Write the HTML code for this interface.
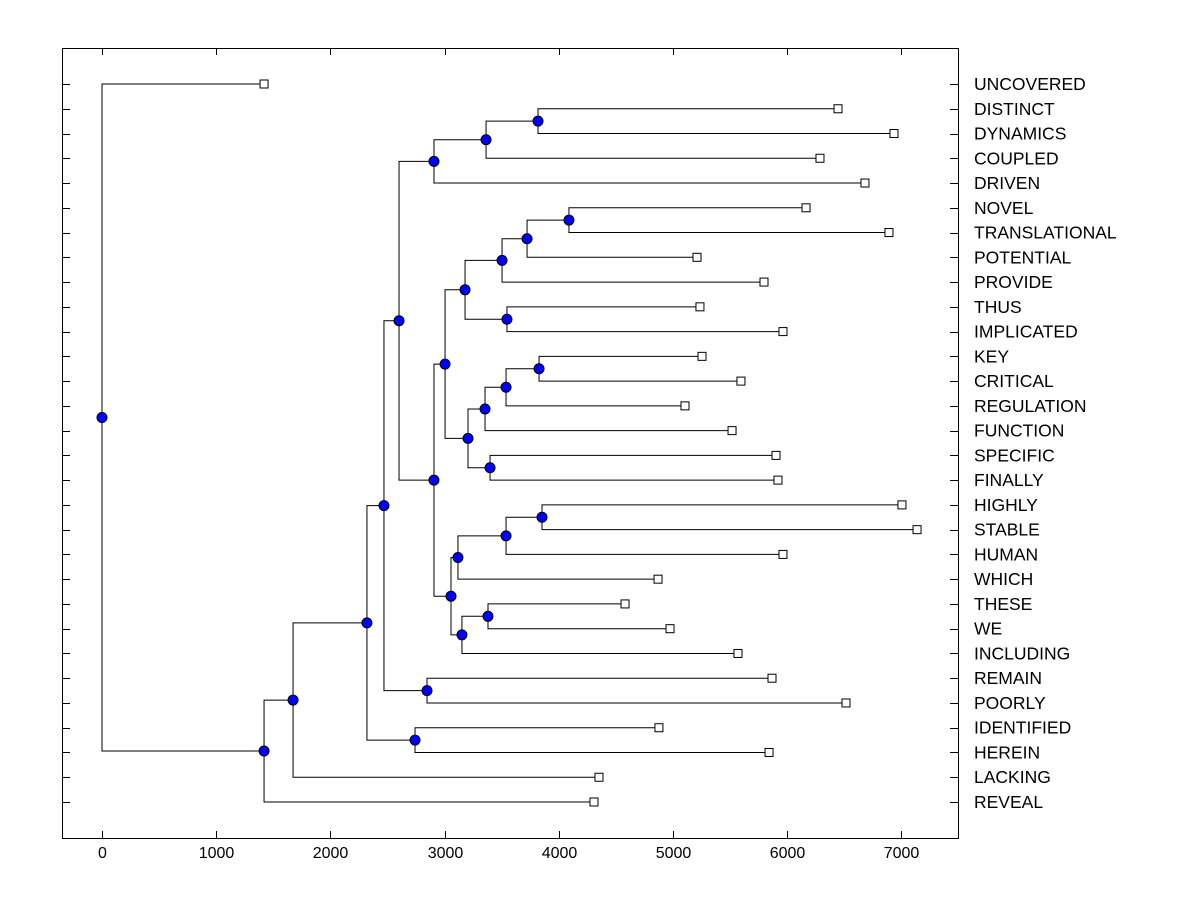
<!DOCTYPE html>
<html><head><meta charset="utf-8"><style>
body{margin:0;background:#fff}
svg{display:block;font-family:"Liberation Sans",Arial,sans-serif}
</style></head><body>
<svg id="chart" width="1200" height="900"></svg>
<script>
const leaves=["UNCOVERED","DISTINCT","DYNAMICS","COUPLED","DRIVEN","NOVEL","TRANSLATIONAL","POTENTIAL","PROVIDE","THUS","IMPLICATED","KEY","CRITICAL","REGULATION","FUNCTION","SPECIFIC","FINALLY","HIGHLY","STABLE","HUMAN","WHICH","THESE","WE","INCLUDING","REMAIN","POORLY","IDENTIFIED","HEREIN","LACKING","REVEAL"];
const leafValues=[1419,6445,6935,6287,6681,6165,6891,5210,5797,5236,5963,5254,5595,5105,5517,5902,5919,7005,7137,5963,4869,4580,4974,5569,5867,6515,4877,5841,4352,4308];
const nodeNames=["root","A","B","C","D","E","F","G","H","I","J","K","L","M","N","O","P","Q","R","S","T","U","V","W","X","Y","Z","AA","AB"];
const nodeLeft=["UNCOVERED","B","C","D","F","IDENTIFIED","H","REMAIN","J","L","K","DISTINCT","N","X","P","T","R","THUS","S","NOVEL","V","SPECIFIC","W","KEY","Z","AB","AA","HIGHLY","THESE"];
const nodeRight=["A","REVEAL","LACKING","E","G","HEREIN","I","POORLY","DRIVEN","M","COUPLED","DYNAMICS","O","Y","Q","U","PROVIDE","IMPLICATED","POTENTIAL","TRANSLATIONAL","FUNCTION","FINALLY","REGULATION","CRITICAL","WHICH","INCLUDING","HUMAN","STABLE","WE"];
const nodeValues=[0,1419,1673,2320,2469,2741,2601,2846,2907,2907,3363,3818,3004,3056,3179,3205,3503,3546,3722,4089,3354,3398,3538,3827,3117,3152,3538,3853,3380];
const xTicks=[0,1000,2000,3000,4000,5000,6000,7000];

const svg=document.getElementById('chart');const NS="http://www.w3.org/2000/svg";
const L=62,R=958,T=48,B=838;
const xs=v=>102+v*0.1142;
const rowY=i=>84+i*(802-84)/29;
function mk(tag,attrs,parent){const e=document.createElementNS(NS,tag);for(const k in attrs)e.setAttribute(k,attrs[k]);(parent||svg).appendChild(e);return e;}
const frame=mk('rect',{x:L+.5,y:T+.5,width:R-L,height:B-T,fill:'none',stroke:'#000'});


const ax=mk('g',{});


xTicks.forEach(t=>{const x=Math.round(xs(t))+.5;
mk('line',{x1:x,x2:x,y1:B,y2:B-7,stroke:'#000'},ax);
mk('line',{x1:x,x2:x,y1:T,y2:T+7,stroke:'#000'},ax);
const tx=mk('text',{x:x,y:858,'text-anchor':'middle','font-size':16},ax);tx.textContent=t;

});
const pos={};
leaves.forEach((n,i)=>{pos[n]={x:xs(leafValues[i]),y:rowY(i)};
const y=Math.round(rowY(i))+.5;
mk('line',{x1:L,x2:L+8,y1:y,y2:y,stroke:'#000'});
mk('line',{x1:R-8,x2:R,y1:y,y2:y,stroke:'#000'});
const tx=mk('text',{x:974,y:rowY(i)+6,'font-size':17.5});tx.textContent=n;

});
function resolve(name){if(pos[name])return pos[name];const k=nodeNames.indexOf(name);
const a=resolve(nodeLeft[k]),b=resolve(nodeRight[k]);pos[name]={x:xs(nodeValues[k]),y:(a.y+b.y)/2,a,b};return pos[name];}
resolve('root');
const links=mk('g',{});


nodeNames.forEach(n=>{const p=pos[n];
[p.a,p.b].forEach(c=>{mk('path',{d:`M${p.x},${p.y}V${c.y}H${c.x}`,fill:'none',stroke:'#000','stroke-width':1},links);});});
nodeNames.forEach(n=>{const p=pos[n];const c=mk('circle',{cx:p.x,cy:p.y,r:5,fill:'#0000ff',stroke:'#000'});

});
leaves.forEach(n=>{const p=pos[n];const r=mk('rect',{x:p.x-4,y:p.y-4,width:8,height:8,fill:'#fff',stroke:'#000'});

});
</script>
</body></html>
